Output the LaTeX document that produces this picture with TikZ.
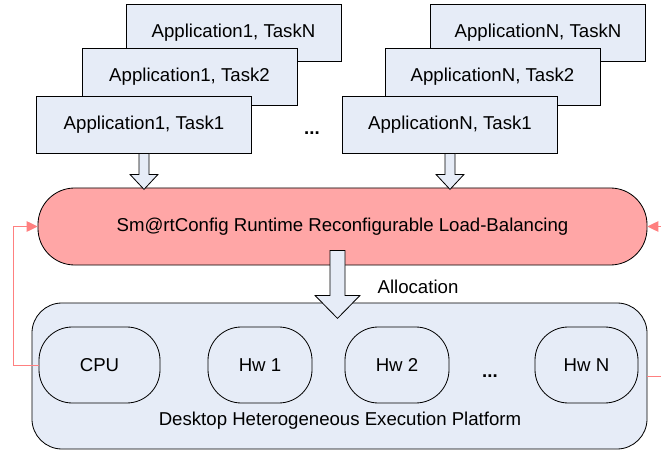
\documentclass[tikz,border=0pt]{standalone}
\usepackage{fontspec}
\setmainfont{Liberation Sans}
\usepackage{tikz}
\usetikzlibrary{arrows.meta}

\definecolor{taskblue}{RGB}{230,236,247}
\definecolor{lbred}{RGB}{255,166,166}
\definecolor{fbred}{RGB}{255,128,128}

\begin{document}
\begin{tikzpicture}[x=0.03cm, y=-0.03cm,
		font=\fontsize{15.9}{18}\selectfont,
		taskbox/.style={draw, line width=0.7pt, fill=taskblue, minimum width=6.45cm, minimum height=1.71cm, inner sep=0pt},
		hwbox/.style={draw, line width=0.7pt, fill=taskblue, rounded corners=1cm, minimum height=2.28cm, inner sep=0pt},
		blockarrow/.style={draw, line width=0.7pt, fill=taskblue, line join=miter},
		feedback/.style={draw=fbred, line width=0.8pt, -{Triangle[length=0.33cm, width=0.32cm]}}]
	\useasboundingbox (0,0) rectangle (661,450);

	% Application 1
	\node[taskbox] (a1tN) at (233.5,33) {Application1, TaskN};
	\node[taskbox] (a1t2) at (189.5,76.5) {Application1, Task2};
	\node[taskbox] (a1t1) at (144,124.5) {Application1, Task1};

	% Application N
	\node[taskbox] (aNtN) at (538,33) {ApplicationN, TaskN};
	\node[taskbox] (aNt2) at (492.5,76.5) {ApplicationN, Task2};
	\node[taskbox] (aNt1) at (450,124.5) {ApplicationN, Task1};

	\node[anchor=base] (adots) at (312,135) {\textbf{...}};

	% Load-Balancing
	\node[draw, line width=0.7pt, fill=lbred, rounded corners=1.1cm, minimum width=18.27cm, minimum height=2.31cm] (lb) at (342.5,226.5) {Sm@rtConfig Runtime Reconfigurable Load-Balancing};

	\draw[blockarrow] (a1t1.south) ++(-5,0) -- ++(10,0) -- ++(0,21) -- ++(9,0) -- ++(-14,15) -- ++(-14,-15) -- ++(9,0) -- cycle;
	\draw[blockarrow] (aNt1.south) ++(-5,0) -- ++(10,0) -- ++(0,21) -- ++(9,0) -- ++(-14,15) -- ++(-14,-15) -- ++(9,0) -- cycle;

	% Plattform
	\node[draw, line width=0.7pt, fill=taskblue, rounded corners=0.9cm, minimum width=18.45cm, minimum height=4.38cm] (plat) at (339.5,376) {};
	\node[hwbox, minimum width=3.63cm] (cpu) at (99.5,365) {CPU};
	\node[hwbox, minimum width=3.12cm] (hw1) at (260,365) {Hw 1};
	\node[hwbox, minimum width=3.12cm] (hw2) at (397,365) {Hw 2};
	\node[hwbox, minimum width=3.09cm] (hwN) at (586.5,365) {Hw N};
	\node[anchor=base] (hdots) at (490,377) {\textbf{...}};
	\node (pltext) at (340,421) {Desktop Heterogeneous Execution Platform};

	\draw[blockarrow] (lb.south) ++(-12.5,-15) -- ++(15,0) -- ++(0,45) -- ++(15,0) -- ++(-22.5,23) -- ++(-22.5,-23) -- ++(15,0) -- cycle;
	\node (alloc) at (418,287) {Allocation};

	% Rueckkopplung
	\draw[feedback] (cpu.west) -- ++(-25,0) |- (lb.west);
	\draw[feedback] (plat.east |- 0,376) -- ++(30,0) |- (lb.east);
\end{tikzpicture}
\end{document}
